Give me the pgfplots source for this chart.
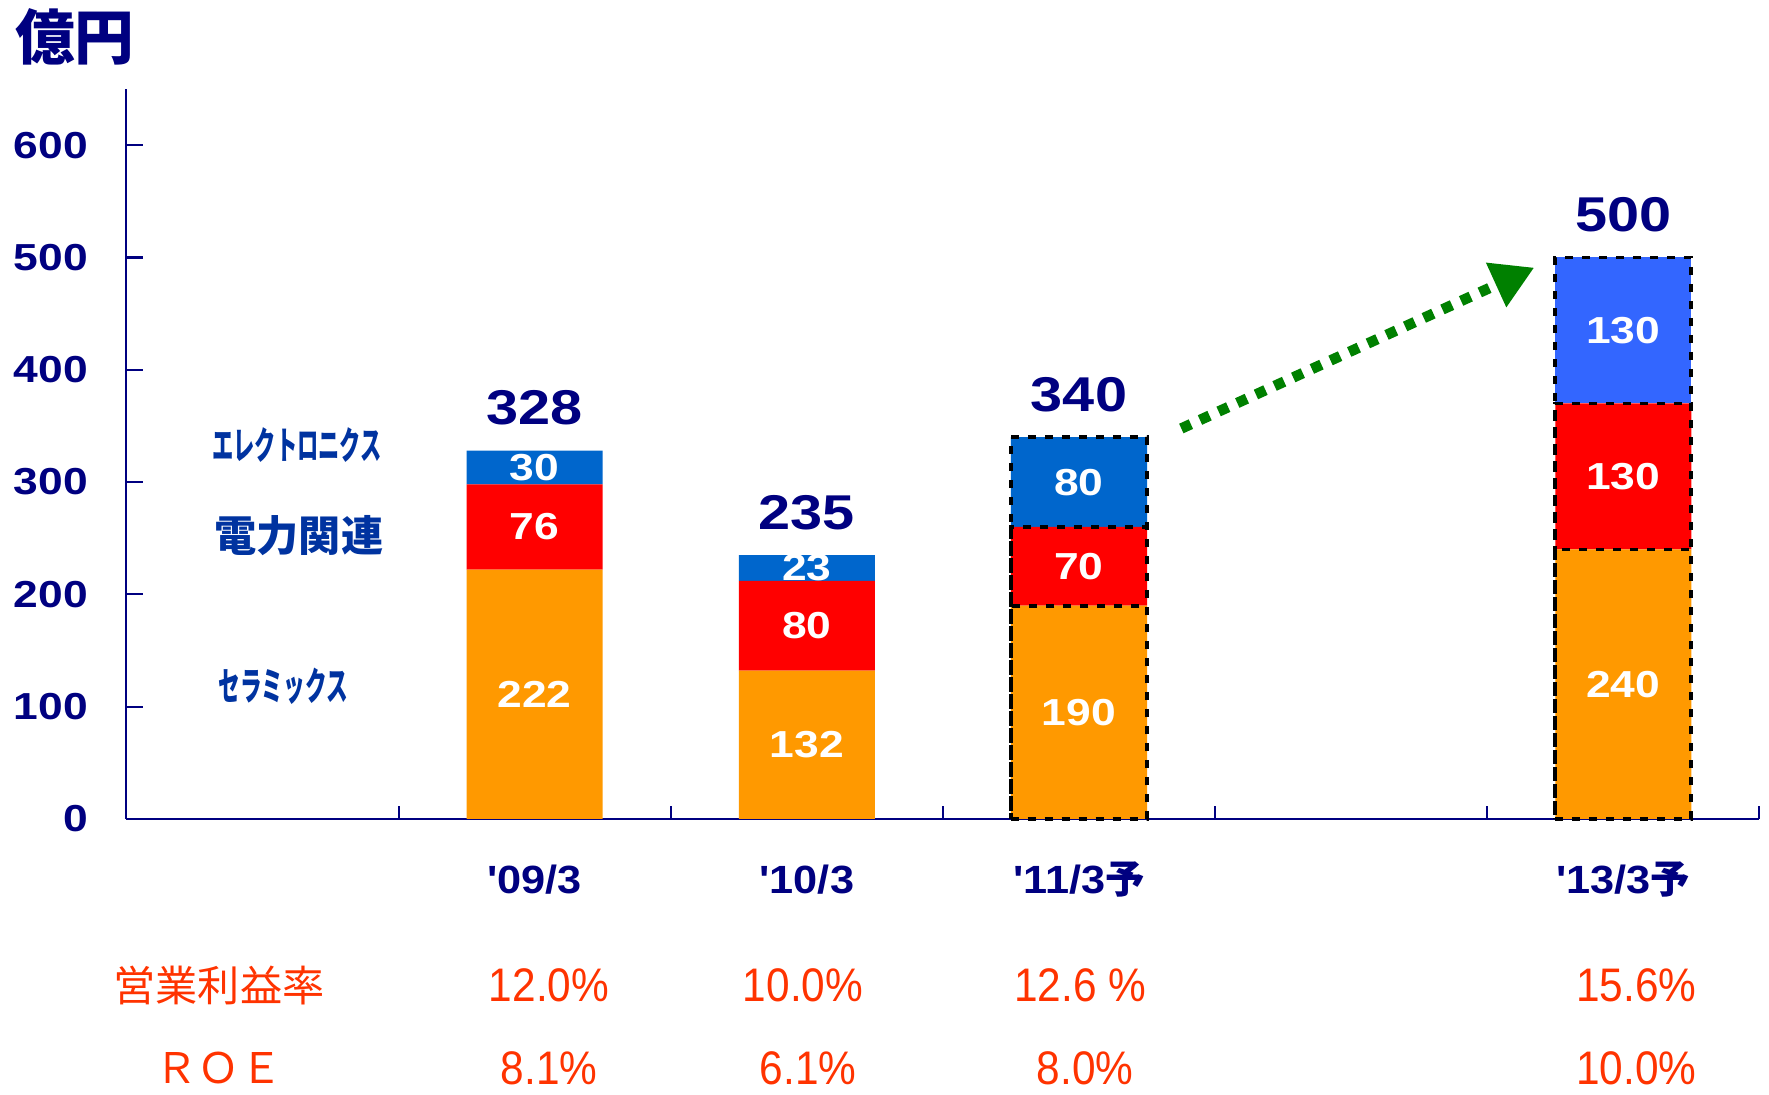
\documentclass[border=0pt]{standalone}
\usepackage{fontspec}
\setmainfont{Liberation Sans}
\newfontfamily\numfont[FakeStretch=1.18]{Liberation Sans}
\newfontfamily\catfont[FakeStretch=1.1,Ligatures=TeXOff]{Liberation Sans}
\newfontfamily\pctfont[FakeStretch=0.9]{Liberation Sans}
\newfontfamily\jp{Noto Sans CJK JP}
\newfontfamily\jpkana[FakeStretch=0.56]{Noto Sans CJK JP}
\usepackage{pgfplots}
\pgfplotsset{compat=1.18}
\usetikzlibrary{arrows.meta}

\definecolor{navy}{RGB}{0,0,128}
\definecolor{segorange}{RGB}{255,153,0}
\definecolor{segred}{RGB}{255,0,0}
\definecolor{segblue}{RGB}{0,102,204}
\definecolor{segblue2}{RGB}{51,102,255}
\definecolor{jpblue}{RGB}{0,51,160}
\definecolor{pct}{RGB}{255,51,0}
\definecolor{arrowgreen}{RGB}{0,128,0}

\tikzset{pctlabel/.style={font=\pctfont\fontsize{13.4}{15}\selectfont, text=pct}}

\begin{document}
\begin{tikzpicture}
\useasboundingbox (-12.64mm,-27.6mm) rectangle (164.26mm,81.9mm);

\begin{axis}[
    at={(0,0)}, anchor=south west,
    scale only axis, width=163.3mm, height=73mm,
    ybar stacked, bar width=0.5,
    xmin=-0.5, xmax=5.5, ymin=0, ymax=650,
    axis lines*=left,
    axis line style={draw=navy, line width=0.6pt, -},
    tick align=inside,
    tick style={navy, line width=0.6pt},
    major tick length=1.7mm, minor tick length=1.3mm,
    xtick={1,2,3,5},
    xticklabels={{'09/3},{'10/3},{'11/3{\jp\bfseries 予}},{'13/3{\jp\bfseries 予}}},
    minor xtick={0.5,1.5,2.5,3.5,4.5,5.5},
    major x tick style={draw=none},
    xticklabel style={font=\catfont\bfseries\fontsize{11.2}{13}\selectfont, text=navy, anchor=center, yshift=-6.1mm},
    ytick={0,100,200,300,400,500,600},
    yticklabel style={font=\numfont\bfseries\fontsize{10.7}{12}\selectfont, text=navy, anchor=east, xshift=-2.6mm},
    /pgf/number format/assume math mode=true,
    clip=false,
]
% 億円 (stacked segments: セラミックス, 電力関連, エレクトロニクス)
\addplot[fill=segorange, draw=none] coordinates {(1,222) (2,132) (3,190) (5,240)};
\addplot[fill=segred, draw=none] coordinates {(1,76) (2,80) (3,70) (5,130)};
\addplot[fill=segblue, draw=none] coordinates {(1,30) (2,23) (3,80) (5,0)};
\addplot[fill=segblue2, draw=none] coordinates {(1,0) (2,0) (3,0) (5,130)};

\node[font=\jp\bfseries\fontsize{17}{20}\selectfont, text=navy] at (axis cs:-0.689,696) {億円};

\node[font=\jpkana\bfseries\fontsize{10.8}{12}\selectfont, text=jpblue] at (axis cs:0.127,333) {エレクトロニクス};
\node[font=\jp\bfseries\fontsize{12}{14}\selectfont, text=jpblue] at (axis cs:0.134,252) {電力関連};
\node[font=\jpkana\bfseries\fontsize{11}{12}\selectfont, text=jpblue] at (axis cs:0.076,118) {セラミックス};

\node[font=\jp\fontsize{12}{14}\selectfont, text=pct] at (axis cs:-0.16,-148) {営業利益率};
\node[font=\jp\fontsize{12}{14}\selectfont, text=pct] at (axis cs:-0.16,-222) {ＲＯＥ};

\node[pctlabel] at (axis cs:1.053,-148) {12.0\%};
\node[pctlabel] at (axis cs:1.986,-148) {10.0\%};
\node[pctlabel] at (axis cs:3.005,-148) {12.6 \%};
\node[pctlabel] at (axis cs:5.048,-148) {15.6\%};
\node[pctlabel] at (axis cs:1.053,-222) {8.1\%};
\node[pctlabel] at (axis cs:2.005,-222) {6.1\%};
\node[pctlabel] at (axis cs:3.023,-222) {8.0\%};
\node[pctlabel] at (axis cs:5.048,-222) {10.0\%};

\draw[arrowgreen, line width=1.05mm, dash pattern=on 1.05mm off 1.0mm,
      -{Triangle[length=4.2mm,width=4.6mm]}]
      (axis cs:3.376,347.7) -- (axis cs:4.673,491);
\end{axis}

\begin{axis}[
    at={(0,0)}, anchor=south west,
    scale only axis, width=163.3mm, height=73mm,
    xmin=-0.5, xmax=5.5, ymin=0, ymax=650,
    bar width=0.5,
    hide axis, clip=false,
]
% dashed outlines of the forecast bars (cumulative tops)
\addplot[ybar, bar shift=0pt, fill=none, draw=black, line width=0.38mm, dash pattern=on 0.8mm off 0.9mm]
    coordinates {(3,340) (5,500)};
\addplot[ybar, bar shift=0pt, fill=none, draw=black, line width=0.38mm, dash pattern=on 0.8mm off 0.9mm]
    coordinates {(3,260) (5,370)};
\addplot[ybar, bar shift=0pt, fill=none, draw=black, line width=0.38mm, dash pattern=on 0.8mm off 0.9mm]
    coordinates {(3,190) (5,240)};

% segment values
\addplot[draw=none, mark=none, point meta=explicit symbolic, nodes near coords,
    every node near coord/.style={anchor=center, text=white, font=\numfont\bfseries\fontsize{10.7}{12}\selectfont}]
    coordinates {(1,111)[222] (1,260)[76] (1,313)[30]
                 (2,66)[132] (2,172)[80] (2,223.5)[23]
                 (3,95)[190] (3,225)[70] (3,300)[80]
                 (5,120)[240] (5,305)[130] (5,435)[130]};

% totals
\addplot[draw=none, mark=none, point meta=explicit symbolic, nodes near coords,
    every node near coord/.style={anchor=base, yshift=2.6mm, text=navy, font=\numfont\bfseries\fontsize{13.9}{16}\selectfont}]
    coordinates {(1,328)[328] (2,235)[235] (3,340)[340] (5,500)[500]};
\end{axis}
\end{tikzpicture}
\end{document}
